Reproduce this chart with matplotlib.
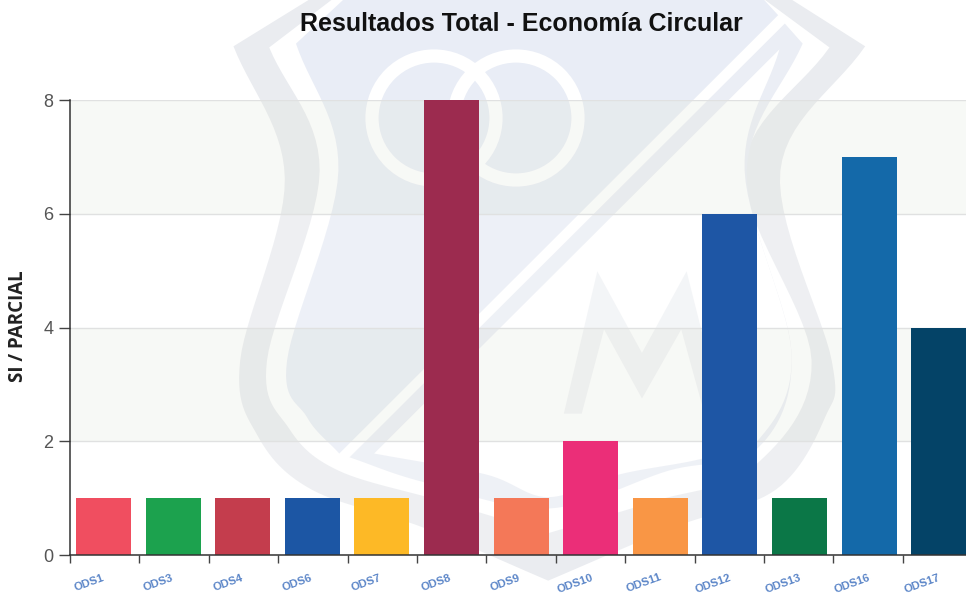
import numpy as np
import matplotlib
matplotlib.use("Agg")
import matplotlib.pyplot as plt
from matplotlib.patches import Polygon, Ellipse, Rectangle
from matplotlib.transforms import ScaledTranslation

categories = ["ODS1", "ODS3", "ODS4", "ODS6", "ODS7", "ODS8", "ODS9", "ODS10",
              "ODS11", "ODS12", "ODS13", "ODS16", "ODS17"]
values = [1, 1, 1, 1, 1, 8, 1, 2, 1, 6, 1, 7, 4]
bar_colors = ["#f04e60", "#1ca24e", "#c43d4d", "#1c56a4", "#fdb926", "#9c2b4f", "#f47858",
              "#eb2e78", "#f99645", "#1e56a5", "#0b7747", "#1469a9", "#044367"]
y_ticks = [0, 2, 4, 6, 8]
title = "Resultados Total - Economía Circular"
y_label = "SI / PARCIAL"

W, H = 966, 595
fig = plt.figure(figsize=(W / 100, H / 100), dpi=100, facecolor="white")
plt.rcParams["font.family"] = ["Liberation Sans", "DejaVu Sans"]


def smooth(pts, n=14):
    """Catmull-Rom through one section of an outline."""
    p = np.array(pts, float)
    if len(p) < 3:
        return p
    q = np.vstack([2 * p[0] - p[1], p, 2 * p[-1] - p[-2]])
    out = []
    for i in range(1, len(q) - 2):
        for t in np.linspace(0, 1, n, endpoint=False):
            out.append(0.5 * ((2 * q[i]) + (q[i + 1] - q[i - 1]) * t
                              + (2 * q[i - 1] - 5 * q[i] + 4 * q[i + 1] - q[i + 2]) * t ** 2
                              + (3 * q[i] - q[i - 1] - 3 * q[i + 1] + q[i + 2]) * t ** 3))
    out.append(p[-1])
    return np.array(out)


def outline(*sections):
    a = np.vstack([smooth(s) for s in sections])
    return np.column_stack([200 + a[:, 0] / 2.24, a[:, 1] / 2.635])


# Watermark crest behind the chart, in pixel coordinates
bg = fig.add_axes([0, 0, 1, 1], zorder=0)
bg.set_xlim(0, W)
bg.set_ylim(H, 0)
bg.axis("off")

band_gray = "#eaecf0"
shield_blue = "#e9edf6"
bg.add_patch(Polygon(outline(
    [(250, -5), (75, 122)],
    [(75, 122), (190, 470), (90, 950), (130, 1150), (250, 1290), (500, 1390), (780, 1530)],
    [(780, 1530), (1060, 1390), (1290, 1290), (1400, 1100), (1415, 950), (1300, 450), (1490, 122)],
    [(1490, 122), (1320, -5)]), fc=band_gray, ec="none"))
bg.add_patch(Polygon(outline(
    [(300, -5), (155, 125)],
    [(155, 125), (268, 450), (150, 950), (200, 1130), (310, 1240), (540, 1320), (780, 1405)],
    [(780, 1405), (1020, 1320), (1240, 1230), (1370, 950), (1218, 450), (1410, 125)],
    [(1410, 125), (1260, -5)]), fc="white", ec="none"))
# upper-left field
bg.add_patch(Polygon(outline(
    [(325, -5), (215, 115)],
    [(215, 115), (310, 450), (195, 950), (240, 1100), (312, 1195)],
    [(312, 1195), (1295, 40)],
    [(1295, 40), (1260, -5)]), fc=shield_blue, ec="none"))
# lower-right frame and its pale interior
bg.add_patch(Polygon(outline(
    [(1310, 62), (335, 1205)],
    [(335, 1205), (500, 1270), (780, 1340), (1050, 1240), (1250, 1180), (1325, 930), (1225, 450), (1350, 115)],
    [(1350, 115), (1310, 62)]), fc="#ebeef5", ec="none"))
bg.add_patch(Polygon(outline(
    [(1298, 130), (390, 1195)],
    [(390, 1195), (640, 1250), (780, 1310), (940, 1250), (1120, 1210), (1250, 1160), (1325, 930), (1220, 450), (1298, 130)]),
    fc="white", ec="none"))
# interlocked rings
for cx in (434, 516):
    bg.add_patch(Ellipse((cx, 118), 124, 124, fc="none", ec="white", lw=9.5))
# letter M
bg.add_patch(Polygon(outline(
    [(815, 1090), (890, 715)], [(890, 715), (990, 930)], [(990, 930), (1090, 715)],
    [(1090, 715), (1170, 1090)], [(1170, 1090), (1130, 1090)], [(1130, 1090), (1078, 868)],
    [(1078, 868), (990, 1050)], [(990, 1050), (905, 868)], [(905, 868), (855, 1090)],
    [(855, 1090), (815, 1090)]), fc="#f1f3f6", ec="none"))

# Chart area: 70 px left, 13 bands (runs past the right edge of the picture)
band = 69.6
left, right, top, bottom = 70, 70 + band * len(categories), 100, 555
ax = fig.add_axes([left / W, 1 - bottom / H, (right - left) / W, (bottom - top) / H], zorder=1)
ax.patch.set_alpha(0)
x = np.arange(len(categories))
ax.set_xlim(-0.5, len(categories) - 0.5)
ax.set_ylim(0, max(y_ticks))

for lo, hi, fc, a in [(6, 8, "#dfe4d6", 0.22), (4, 6, "#ffffff", 0.20),
                      (2, 4, "#dfe4d6", 0.22), (0, 2, "#ffffff", 0.20)]:
    ax.add_patch(Rectangle((-0.5, lo), len(categories), hi - lo, fc=fc, alpha=a, ec="none", zorder=0.5))

ax.yaxis.grid(True, color="#e0e1e1", lw=1, zorder=1)
ax.set_axisbelow(True)
ax.bar(x - 0.018, values, width=0.79, color=bar_colors, zorder=3, clip_on=False)

for s in ("top", "right"):
    ax.spines[s].set_visible(False)
for s in ("left", "bottom"):
    ax.spines[s].set_color("#333333")
    ax.spines[s].set_linewidth(1.1)
    ax.spines[s].set_zorder(4)

ax.set_yticks(y_ticks)
ax.tick_params(axis="y", length=8, width=1, color="#444444", labelcolor="#555555",
               labelsize=13, pad=4)
ax.set_xticks(-0.5 + x * 69.4 / band)
ax.set_xticklabels(categories, rotation=20, ha="center", va="center", color="#5c86c8",
                   fontsize=8.2, fontweight="bold")
ax.tick_params(axis="x", length=6, width=1, color="#444444", pad=0)
offset = ScaledTranslation(19 / 100, -20 / 100, fig.dpi_scale_trans)
for lab in ax.get_xticklabels():
    lab.set_transform(lab.get_transform() + offset)
    lab.set_rotation_mode("anchor")

fig.text(521 / W, 1 - 24 / H, title, ha="center", va="center", fontsize=18,
         fontweight="bold", color="#111111", zorder=5)
fig.text(18 / W, 1 - 326 / H, y_label, rotation=90, ha="center", va="center", fontsize=13.5,
         fontweight="bold", family=["Open Sans", "DejaVu Sans"], color="#222222", zorder=5)

fig.savefig("out.png", dpi=100)
